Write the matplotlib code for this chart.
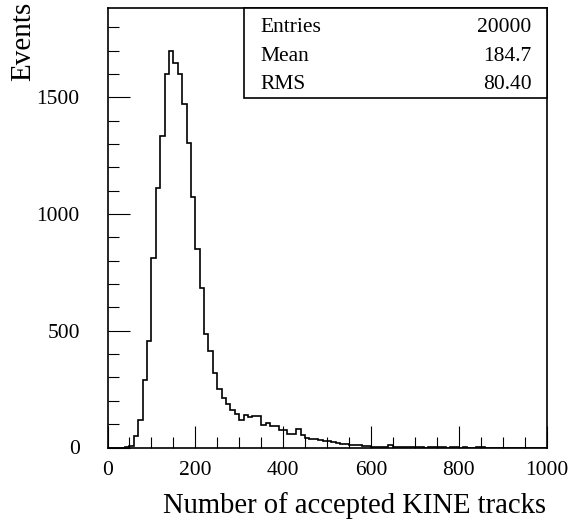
import numpy as np
import matplotlib
matplotlib.use("Agg")
import matplotlib.pyplot as plt
from matplotlib.patches import Rectangle

plt.rcParams['font.family'] = ['Liberation Serif', 'DejaVu Serif']

# Track multiplicity histogram: 100 bins of width 10 from 0 to 1000
bin_edges = np.arange(0, 1001, 10)
counts = [
    0, 0, 0, 0, 3, 7, 49, 117, 289, 457,              # 0-100
    810, 1110, 1336, 1599, 1696, 1646, 1599, 1471, 1303, 1074,  # 100-200
    850, 684, 486, 415, 319, 250, 214, 186, 162, 143,  # 200-300
    119, 141, 130, 134, 137, 98, 105, 94, 93, 77,      # 300-400
    75, 58, 56, 78, 53, 42, 37, 37, 30, 28,            # 400-500
    26, 22, 19, 16, 13, 11, 10, 9, 7, 6,               # 500-600
    4, 4, 3, 3, 9, 3, 2, 2, 2, 1,                      # 600-700
    1, 1, 0, 1, 2, 2, 1, 0, 2, 2,                      # 700-800
    0, 1, 0, 0, 2, 1, 0, 0, 0, 0,                      # 800-900
    0, 0, 0, 0, 0, 0, 0, 0, 0, 0,                      # 900-1000
]

stat_names = ["Entries", "Mean", "RMS"]
stat_values = ["20000", "184.7", "80.40"]

x_label = "Number of accepted KINE tracks"
y_label = "Events"

W, H = 578, 523
fig = plt.figure(figsize=(W / 100, H / 100), dpi=100)
ax = fig.add_axes([107.5 / W, 1 - 447.5 / H, 439 / W, 439.5 / H])

ax.stairs(counts, bin_edges, color='black', linewidth=1.2)

ax.set_xlim(0, 1000)
ax.set_ylim(0, 1882)

ax.set_xticks(np.arange(0, 1001, 200))
ax.set_xticks(np.arange(0, 1001, 50), minor=True)
ax.set_yticks(np.arange(0, 1501, 500))
ax.set_yticks(np.arange(0, 1801, 100), minor=True)

ax.tick_params(which='both', direction='in', top=False, right=False,
               color='black', width=0.8)
ax.tick_params(which='major', length=15.8)
ax.tick_params(which='minor', length=7.7)
ax.tick_params(axis='x', which='major', pad=10, labelsize=15.5)
ax.tick_params(axis='y', which='major', pad=20, labelsize=15.5)

for s in ax.spines.values():
    s.set_linewidth(1.2)

# Statistics box in the upper right corner
box_left = (244 - 107.5) / 439
box_bottom = (447.5 - 97.7) / 439.5
ax.add_patch(Rectangle((box_left, box_bottom), 1 - box_left, 1 - box_bottom,
                       transform=ax.transAxes, facecolor='white',
                       edgecolor='black', linewidth=1.2, zorder=5,
                       clip_on=False))
row_y = [0.946, 0.879, 0.8157]
for name, val, yy in zip(stat_names, stat_values, row_y):
    ax.text(0.349, yy, name, transform=ax.transAxes, ha='left',
            va='baseline', fontsize=15.5, zorder=6)
    ax.text(0.966, yy, val, transform=ax.transAxes, ha='right',
            va='baseline', fontsize=15.5, zorder=6)

fig.text(546 / W, 1 - 513 / H, x_label, ha='right', va='baseline',
         fontsize=20.6)
fig.text(23 / W, 1 - 2 / H, y_label, ha='center', va='top',
         rotation=90, fontsize=21)

fig.savefig("out.png", dpi=100)
